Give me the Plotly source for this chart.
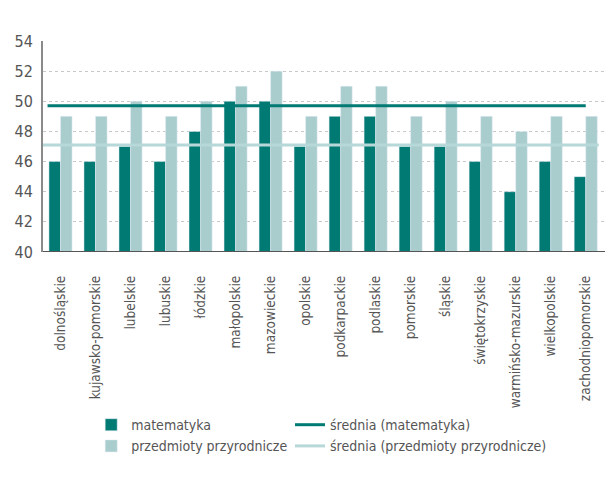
import plotly.graph_objects as go

regions = ["dolnośląskie", "kujawsko-pomorskie", "lubelskie", "lubuskie", "łódzkie",
           "małopolskie", "mazowieckie", "opolskie", "podkarpackie", "podlaskie",
           "pomorskie", "śląskie", "świętokrzyskie", "warmińsko-mazurskie",
           "wielkopolskie", "zachodniopomorskie"]
matematyka = [46, 46, 47, 46, 48, 50, 50, 47, 49, 49, 47, 47, 46, 44, 46, 45]
przyrodnicze = [49, 49, 50, 49, 50, 51, 52, 49, 51, 51, 49, 50, 49, 48, 49, 49]
srednia_mat = 49.7
srednia_przyr = 47.1
y_ticks = [40, 42, 44, 46, 48, 50, 52, 54]

DARK = "#007A73"
LIGHT = "#A9CDCD"
LIGHT_LINE = "#B7D8D8"
TXT = "#555555"
FONT = "DejaVu Sans Condensed, sans-serif"

pos = list(range(len(regions)))
first, last = pos[0], pos[-1]

fig = go.Figure()
fig.add_trace(go.Bar(x=pos, y=matematyka, name="matematyka", marker_color=DARK,
                     offsetgroup="m", legend="legend"))
fig.add_trace(go.Bar(x=pos, y=przyrodnicze, name="przedmioty przyrodnicze",
                     marker_color=LIGHT, offsetgroup="p", legend="legend"))
fig.add_trace(go.Scatter(x=[first - 0.37, last], y=[srednia_mat, srednia_mat],
                         mode="lines", name="średnia (matematyka)",
                         line=dict(color=DARK, width=3), legend="legend2"))
fig.add_trace(go.Scatter(x=[first - 0.5, last + 0.37], y=[srednia_przyr, srednia_przyr],
                         mode="lines", name="średnia (przedmioty przyrodnicze)",
                         line=dict(color=LIGHT_LINE, width=3), legend="legend2"))

fig.update_layout(
    width=608, height=483,
    margin=dict(l=43, r=3, t=41, b=231, autoexpand=False),
    paper_bgcolor="white", plot_bgcolor="white",
    barmode="group", bargap=0.34, bargroupgap=0,
    font=dict(family=FONT, color=TXT, size=14),
    xaxis=dict(range=[-0.5, 15.55], tickvals=pos, ticktext=regions, tickangle=-90,
               showgrid=False, zeroline=False, showline=False, automargin=False,
               ticks="", ticklabelstandoff=20,
               tickfont=dict(size=13.5, color=TXT)),
    yaxis=dict(range=[40, 54], tickvals=y_ticks, showgrid=True, gridcolor="#C8C8C8",
               griddash="dot", gridwidth=1, zeroline=False, showline=True,
               automargin=False,
               linecolor="#8A8A8A", linewidth=2, ticks="", ticklabelstandoff=5,
               tickfont=dict(size=16, color=TXT)),
    legend=dict(xref="container", yref="container", x=0.150, y=0.153,
                xanchor="left", yanchor="top", orientation="v",
                font=dict(size=14, color=TXT), bgcolor="rgba(0,0,0,0)",
                tracegroupgap=0, itemwidth=30),
    legend2=dict(xref="container", yref="container", x=0.477, y=0.153,
                 xanchor="left", yanchor="top", orientation="v",
                 font=dict(size=14, color=TXT), bgcolor="rgba(0,0,0,0)",
                 tracegroupgap=0, itemwidth=30),
    showlegend=True,
)
# bottom axis line
fig.add_hline(y=40, line=dict(color="#555555", width=2), layer="above")

fig.write_html("out.html", config={"displayModeBar": False},
               post_script="document.body.style.margin='0';")
